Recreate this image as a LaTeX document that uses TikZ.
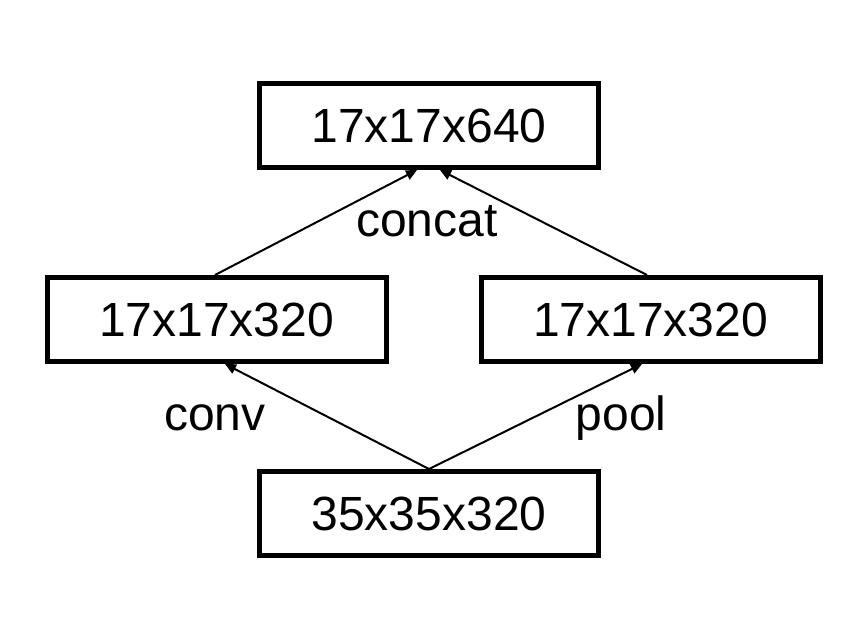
\documentclass[tikz,border=0pt]{standalone}
\usepackage{fontspec}
\setmainfont{Liberation Sans}
\usetikzlibrary{arrows.meta}
\begin{document}
\begin{tikzpicture}[x=1pt,y=-1pt,
  box/.style={draw=black,line width=5pt,minimum width=339pt,minimum height=84pt,inner sep=0pt,font=\fontsize{48}{56}\selectfont},
  lbl/.style={anchor=base,inner sep=0pt,font=\fontsize{48}{56}\selectfont},
  conn/.style={line width=2pt,-{Triangle[length=11pt,width=10pt]}}]
\useasboundingbox (0,0) rectangle (868,634);
\node[box] (top) at (429,125.5) {17x17x640};
\node[box] (left) at (216.5,319.5) {17x17x320};
\node[box] (right) at (650.5,319.5) {17x17x320};
\node[box] (bot) at (429,513.5) {35x35x320};
\node[lbl] (concat) at (427,236) {concat};
\node[lbl] (conv) at (215,430) {conv};
\node[lbl] (pool) at (621,430) {pool};
\draw[conn] ([xshift=-1.5pt]left.north) -- ([xshift=-12pt]top.south);
\draw[conn] ([xshift=-3.5pt]right.north) -- ([xshift=11pt]top.south);
\draw[conn] (bot.north) -- ([xshift=8.5pt]left.south);
\draw[conn] (bot.north) -- ([xshift=-8.5pt]right.south);
\end{tikzpicture}
\end{document}
